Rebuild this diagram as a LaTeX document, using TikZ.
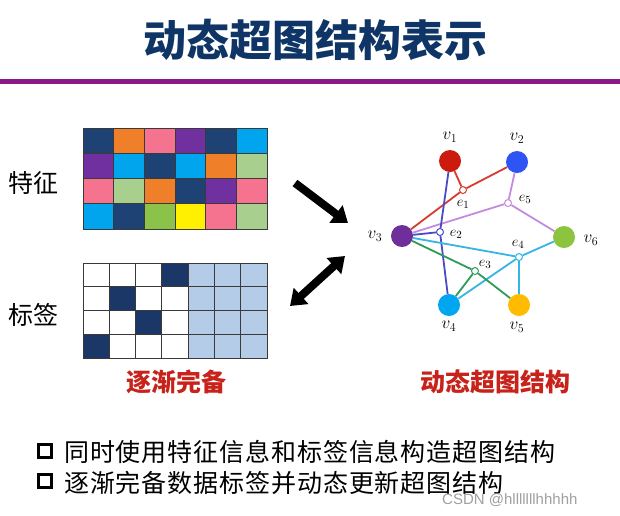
\documentclass[tikz,border=0pt]{standalone}
\usepackage{fontspec}
\usetikzlibrary{arrows.meta}
\newfontfamily\cjk{Noto Sans CJK SC}
\newfontfamily\cjksp[LetterSpace=3.6]{Noto Sans CJK SC}
\newfontfamily\wmfont{Liberation Sans}
\definecolor{titlenavy}{HTML}{0E3566}
\definecolor{rulepurple}{HTML}{8B1A89}
\definecolor{nv}{HTML}{1E4273}
\definecolor{orc}{HTML}{F07F2A}
\definecolor{pk}{HTML}{F5738F}
\definecolor{pu}{HTML}{7030A0}
\definecolor{bl}{HTML}{00A5EE}
\definecolor{lg}{HTML}{A8CF8E}
\definecolor{gr}{HTML}{8BC34A}
\definecolor{ye}{HTML}{FFEF00}
\definecolor{wh}{HTML}{FFFFFF}
\definecolor{lb}{HTML}{B4CCE8}
\definecolor{ld}{HTML}{1A3768}
\definecolor{gridline}{HTML}{3A3A3A}
\definecolor{redtxt}{HTML}{C8231B}
\definecolor{cv1}{HTML}{CC1A0E}
\definecolor{cv2}{HTML}{2F54F5}
\definecolor{cv3}{HTML}{6E2F9A}
\definecolor{cv4}{HTML}{00A6F0}
\definecolor{cv5}{HTML}{FFBB00}
\definecolor{cv6}{HTML}{8CC43F}
\definecolor{ce1}{HTML}{D93A2B}
\definecolor{ce2}{HTML}{4B4BC8}
\definecolor{ce3}{HTML}{2E9B5A}
\definecolor{ce4}{HTML}{33B5E5}
\definecolor{ce5}{HTML}{C58BE0}
\definecolor{wmgray}{HTML}{A0A0A0}
\tikzset{
  vert/.style={circle, fill=#1, minimum size=22pt, inner sep=0pt},
  hedge/.style={circle, fill=white, draw=#1, line width=1pt, minimum size=7pt, inner sep=0pt},
  hline/.style={draw=#1, line width=1.8pt},
  vlab/.style={inner sep=0pt, font=\fontsize{17}{17}\selectfont},
  elab/.style={inner sep=0pt, font=\fontsize{15}{15}\selectfont},
  bigarrow/.style={line width=8pt, -{Triangle[length=15pt,width=21pt]}},
  bigdarrow/.style={line width=8pt, {Triangle[length=15pt,width=21pt]}-{Triangle[length=15pt,width=21pt]}},
  cell/.style={draw=gridline, line width=1pt},
  sidelab/.style={inner sep=0pt, font=\cjk\fontsize{25}{25}\selectfont},
  redlab/.style={inner sep=0pt, text=redtxt, font=\cjk\bfseries\fontsize{25}{25}\selectfont},
  bullettext/.style={inner sep=0pt, anchor=west, font=\cjksp\fontsize{25}{25}\selectfont},
  boxmark/.style={draw=black, line width=2.7pt, minimum size=13pt, inner sep=0pt},
}
\begin{document}
\begin{tikzpicture}[x=1pt,y=-1pt]
\fill[white] (0,0) rectangle (620,515);
\useasboundingbox (0,0) rectangle (620,515);
% title
\node[inner sep=0pt, text=titlenavy, font=\cjk\bfseries\fontsize{43}{43}\selectfont] (title) at (315,40) {动态超图结构表示};
\draw[rulepurple, line width=5pt] (0,81.5) -- (620,81.5);
% side labels
\node[sidelab] (feat) at (34,183) {特征};
\node[sidelab] (lab) at (34,315) {标签};
% feature grid
\def\fw{30.667}\def\fh{25.25}
\foreach \c [count=\k] in {nv,orc,pk,pu,nv,bl}
  \path[cell, fill=\c] ({83+(\k-1)*\fw},128) rectangle ++(\fw,\fh);
\foreach \c [count=\k] in {pu,bl,nv,bl,orc,lg}
  \path[cell, fill=\c] ({83+(\k-1)*\fw},{128+\fh}) rectangle ++(\fw,\fh);
\foreach \c [count=\k] in {pk,lg,orc,nv,pu,pk}
  \path[cell, fill=\c] ({83+(\k-1)*\fw},{128+2*\fh}) rectangle ++(\fw,\fh);
\foreach \c [count=\k] in {bl,nv,gr,ye,pk,lg}
  \path[cell, fill=\c] ({83+(\k-1)*\fw},{128+3*\fh}) rectangle ++(\fw,\fh);
% label grid
\def\lw{26.286}\def\lh{23.75}
\foreach \c [count=\k] in {wh,wh,wh,ld,lb,lb,lb}
  \path[cell, fill=\c] ({83+(\k-1)*\lw},263) rectangle ++(\lw,\lh);
\foreach \c [count=\k] in {wh,ld,wh,wh,lb,lb,lb}
  \path[cell, fill=\c] ({83+(\k-1)*\lw},{263+\lh}) rectangle ++(\lw,\lh);
\foreach \c [count=\k] in {wh,wh,ld,wh,lb,lb,lb}
  \path[cell, fill=\c] ({83+(\k-1)*\lw},{263+2*\lh}) rectangle ++(\lw,\lh);
\foreach \c [count=\k] in {ld,wh,wh,wh,lb,lb,lb}
  \path[cell, fill=\c] ({83+(\k-1)*\lw},{263+3*\lh}) rectangle ++(\lw,\lh);
\node[redlab] (gradual) at (176,382) {逐渐完备};
% arrows
\coordinate (a1s) at (295,183);
\coordinate (a1e) at (348,223);
\coordinate (a2s) at (290,306);
\coordinate (a2e) at (345,256);
\draw[bigarrow] (a1s) -- (a1e);
\draw[bigdarrow] (a2s) -- (a2e);
% hypergraph
\node[vert=cv1] (v1) at (450,161) {};
\node[vert=cv2] (v2) at (517,162) {};
\node[vert=cv3] (v3) at (402,236) {};
\node[vert=cv4] (v4) at (449,305) {};
\node[vert=cv5] (v5) at (519,305) {};
\node[vert=cv6] (v6) at (564,237) {};
\node[hedge=ce1] (e1) at (463,190) {};
\node[hedge=ce5] (e5) at (508,203) {};
\node[hedge=ce2] (e2) at (440,232) {};
\node[hedge=ce4] (e4) at (519,257) {};
\node[hedge=ce3] (e3) at (475,271) {};
\draw[hline=ce1] (v1) -- (e1); \draw[hline=ce1] (v2) -- (e1); \draw[hline=ce1] (v3) -- (e1);
\draw[hline=ce5] (v2) -- (e5); \draw[hline=ce5] (v6) -- (e5); \draw[hline=ce5] (v3) -- (e5);
\draw[hline=ce2] (v1) -- (e2); \draw[hline=ce2] (v3) -- (e2); \draw[hline=ce2] (v4) -- (e2);
\draw[hline=ce4] (v3) -- (e4); \draw[hline=ce4] (v6) -- (e4); \draw[hline=ce4] (v5) -- (e4); \draw[hline=ce4] (v4) -- (e4);
\draw[hline=ce3] (v3) -- (e3); \draw[hline=ce3] (v5) -- (e3); \draw[hline=ce3] (v4) -- (e3);
\node[vlab] (lv1) at (450,137) {$v_1$};
\node[vlab] (lv2) at (517,138) {$v_2$};
\node[vlab] (lv3) at (375,236) {$v_3$};
\node[vlab] (lv6) at (591,240) {$v_6$};
\node[vlab] (lv4) at (449,326) {$v_4$};
\node[vlab] (lv5) at (517,327) {$v_5$};
\node[elab] (le1) at (463,204) {$e_1$};
\node[elab] (le5) at (525,199) {$e_5$};
\node[elab] (le2) at (456,234) {$e_2$};
\node[elab] (le4) at (518,244) {$e_4$};
\node[elab] (le3) at (485,264) {$e_3$};
\node[redlab] (dyn) at (495,382) {动态超图结构};
% bullets
\node[boxmark] (b1) at (45,451) {};
\node[boxmark] (b2) at (45,481) {};
\node[bullettext] (t1) at (64,452) {同时使用特征信息和标签信息构造超图结构};
\node[bullettext] (t2) at (64,483) {逐渐完备数据标签并动态更新超图结构};
\node[inner sep=0pt, anchor=west, text=wmgray, font=\wmfont\fontsize{15}{15}\selectfont] (wm) at (442,500) {CSDN @hlllllllhhhhh};
\end{tikzpicture}
\end{document}
